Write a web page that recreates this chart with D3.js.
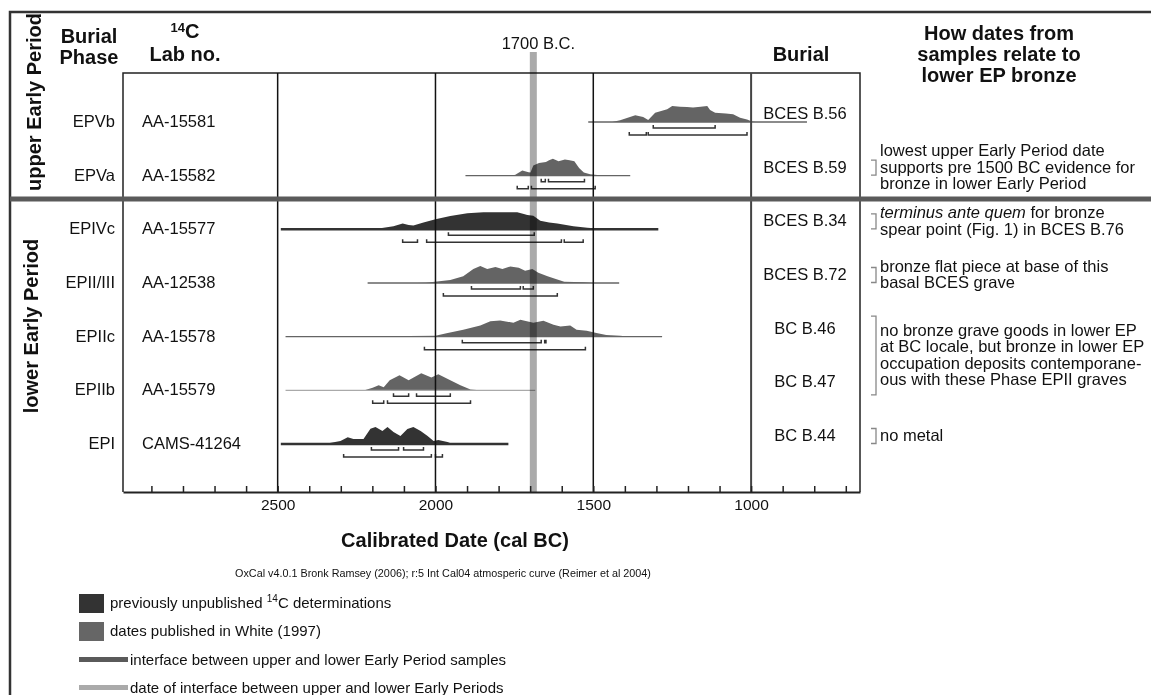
<!DOCTYPE html>
<html>
<head>
<meta charset="utf-8">
<script src="https://cdn.jsdelivr.net/npm/d3@7"></script>
<style>
  body { margin: 0; background: #fff; }
  svg { display: block; font-family: "Liberation Sans", Arial, Helvetica, sans-serif; }
</style>
</head>
<body>
<svg id="chart" width="1151" height="695"></svg>
<script>
// Calibrated 14C dates per burial phase (years cal BC)

const phases  = ['EPVb', 'EPVa', 'EPIVc', 'EPII/III', 'EPIIc', 'EPIIb', 'EPI'];
const labNos  = ['AA-15581', 'AA-15582', 'AA-15577', 'AA-12538', 'AA-15578', 'AA-15579', 'CAMS-41264'];
const burials = ['BCES B.56', 'BCES B.59', 'BCES B.34', 'BCES B.72', 'BC B.46', 'BC B.47', 'BC B.44'];
// 'new' = previously unpublished, 'white' = published in White (1997)
const sources = ['white', 'white', 'new', 'white', 'white', 'white', 'new'];

// extent of the thin line under each probability curve
const baseRanges = [[1516, 823], [1905, 1383], [2490, 1294], [2215, 1418], [2475, 1282], [2475, 1684], [2490, 1769]];

// probability curves: [year BC, relative probability]
const densities = [
  [[1440, 0], [1415, 0.1], [1367, 0.4], [1342, 0.3], [1326, 0.12], [1304, 0.55], [1266, 0.75], [1250, 0.94],
   [1225, 0.9], [1203, 0.88], [1184, 0.85], [1160, 0.9], [1139, 0.94], [1130, 0.7], [1114, 0.55], [1080, 0.5],
   [1057, 0.45], [1035, 0.25], [1013, 0.15], [997, 0.03], [985, 0]],
  [[1760, 0], [1747, 0.05], [1725, 0.3], [1705, 0.2], [1699, 0.18], [1690, 0.6], [1672, 0.75], [1650, 0.8],
   [1640, 0.9], [1628, 1.0], [1610, 0.85], [1590, 0.95], [1575, 0.9], [1560, 0.85], [1545, 0.45], [1530, 0.18],
   [1510, 0.08], [1480, 0.03], [1465, 0]],
  [[2260, 0], [2237, 0.02], [2180, 0.05], [2133, 0.18], [2104, 0.35], [2085, 0.25], [2070, 0.22], [2038, 0.4],
   [2000, 0.6], [1953, 0.78], [1899, 0.94], [1848, 1.0], [1780, 1.0], [1741, 1.0], [1720, 0.9], [1709, 0.85],
   [1690, 0.8], [1668, 0.5], [1640, 0.4], [1614, 0.35], [1563, 0.18], [1519, 0.1], [1478, 0.03], [1450, 0]],
  [[2060, 0], [2030, 0.02], [1953, 0.18], [1912, 0.4], [1880, 0.82], [1858, 1.0], [1836, 0.82], [1810, 0.94],
   [1788, 0.82], [1763, 0.97], [1736, 0.9], [1716, 0.72], [1693, 0.82], [1674, 0.6], [1645, 0.4], [1614, 0.2],
   [1592, 0.08], [1530, 0.04], [1500, 0]],
  [[2200, 0], [2165, 0.02], [2000, 0.06], [1965, 0.2], [1912, 0.4], [1858, 0.65], [1826, 0.9], [1795, 0.95],
   [1753, 0.82], [1731, 1.0], [1690, 0.82], [1658, 0.94], [1626, 0.7], [1604, 0.6], [1573, 0.65], [1553, 0.4],
   [1521, 0.35], [1490, 0.22], [1459, 0.1], [1415, 0.05], [1380, 0]],
  [[2225, 0], [2199, 0.15], [2180, 0.3], [2164, 0.18], [2145, 0.6], [2114, 0.88], [2085, 0.6], [2045, 1.0],
   [2013, 0.76], [1991, 0.94], [1953, 0.6], [1921, 0.3], [1889, 0.05], [1860, 0]],
  [[2360, 0], [2339, 0.05], [2301, 0.18], [2278, 0.4], [2260, 0.3], [2247, 0.3], [2228, 0.3], [2206, 0.9],
   [2190, 1.0], [2168, 0.76], [2152, 1.0], [2133, 0.7], [2111, 0.47], [2089, 0.88], [2070, 1.0], [2047, 0.76],
   [2025, 0.47], [2006, 0.18], [1991, 0.24], [1962, 0.12], [1946, 0]]
];

// 68.2% and 95.4% ranges
const range68 = [
  [[1310, 1114]],
  [[1665, 1652], [1642, 1528]],
  [[1959, 1687]],
  [[1886, 1731], [1722, 1690]],
  [[1915, 1665], [1654, 1650]],
  [[2133, 2085], [2060, 1953]],
  [[2203, 2117], [2101, 2038]]
];
const range95 = [
  [[1386, 1332], [1326, 1013]],
  [[1741, 1706], [1696, 1494]],
  [[2104, 2057], [2028, 1601], [1592, 1532]],
  [[1975, 1614]],
  [[2035, 1525]],
  [[2199, 2164], [2152, 1889]],
  [[2291, 2013], [2000, 1978]]
];

const gridYears = [2500, 2000, 1500, 1000];
const interfaceYear = 1690;
const interfaceLabel = '1700 B.C.';

// notes on the right, anchored to rows
const noteRows = [['EPVa'], ['EPIVc'], ['EPII/III'], ['EPIIc', 'EPIIb'], ['EPI']];
const noteLines = [
  ['lowest upper Early Period date', 'supports pre 1500 BC evidence for', 'bronze in lower Early Period'],
  ['*terminus ante quem* for bronze', 'spear point (Fig. 1) in BCES B.76'],
  ['bronze flat piece at base of this', 'basal BCES grave'],
  ['no bronze grave goods in lower EP', 'at BC locale, but bronze in lower EP',
   'occupation deposits contemporane-', 'ous with these Phase EPII graves'],
  ['no metal']
];

const legendItems = [
  { kind: 'box', color: '#333', text: ['previously unpublished ', '14', 'C determinations'] },
  { kind: 'box', color: '#666', text: ['dates published in White (1997)'] },
  { kind: 'bar', color: '#5a5a5a', text: ['interface between upper and lower Early Period samples'] },
  { kind: 'bar', color: '#aaa', text: ['date of interface between upper and lower Early Periods'] }
];

const fills = { new: '#333', white: '#646464' };

// ---------------------------------------------------------------
const svg = d3.select('#chart');
const box = { left: 123, right: 860, top: 73, bottom: 492 };

const x = d3.scaleLinear().domain([2990, 655]).range([box.left, box.right]);
const y = d3.scalePoint().domain(phases).range([122, 444]);
const h = d3.scaleLinear().domain([0, 1]).range([0, 17]);

// outer frame (runs off the page right and bottom)
svg.append('path')
  .attr('d', 'M1170,12 H10 V710')
  .attr('fill', 'none')
  .attr('stroke', '#333')
  .attr('stroke-width', 2.5);

// plot box
svg.append('path')
  .attr('d', `M${box.left},${box.bottom} V${box.top} H${box.right} V${box.bottom}`)
  .attr('fill', 'none')
  .attr('stroke', '#222')
  .attr('stroke-width', 1.5);

// probability curves
phases.forEach((p, i) => {
  const y0 = y(p);
  const color = fills[sources[i]];
  const area = d3.area()
    .x(d => x(d[0]))
    .y0(y0)
    .y1(d => y0 - h(d[1]));

  svg.append('path')
    .datum(densities[i])
    .attr('d', area)
    .attr('fill', color);

  svg.append('line')
    .attr('x1', x(baseRanges[i][0]))
    .attr('x2', x(baseRanges[i][1]))
    .attr('y1', y0)
    .attr('y2', y0)
    .attr('stroke', p === 'EPIIb' ? '#aaa' : color)
    .attr('stroke-width', sources[i] === 'new' ? 2.5 : 1.3);

  const bracket = (r, off) => `M${x(r[0])},${y0 + off - 3} V${y0 + off} H${x(r[1])} V${y0 + off - 3}`;
  svg.selectAll(null)
    .data(range68[i])
    .enter()
    .append('path')
    .attr('d', r => bracket(r, 6))
    .attr('fill', 'none')
    .attr('stroke', '#333')
    .attr('stroke-width', 1.5);
  svg.selectAll(null)
    .data(range95[i])
    .enter()
    .append('path')
    .attr('d', r => bracket(r, 13))
    .attr('fill', 'none')
    .attr('stroke', '#333')
    .attr('stroke-width', 1.5);
});

// century grid lines
svg.selectAll('.grid')
  .data(gridYears)
  .enter()
  .append('line')
  .attr('class', 'grid')
  .attr('x1', d => x(d))
  .attr('x2', d => x(d))
  .attr('y1', box.top)
  .attr('y2', box.bottom)
  .attr('stroke', d => d === 1000 ? '#444' : '#111')
  .attr('stroke-width', d => d === 1000 ? 2 : 1.5);

// 1700 BC interface band
svg.append('rect')
  .attr('x', x(interfaceYear) - 3.5)
  .attr('y', 52)
  .attr('width', 7)
  .attr('height', box.bottom - 52)
  .attr('fill', '#aaa')
  .style('mix-blend-mode', 'multiply');

svg.append('text')
  .attr('x', x(interfaceYear) + 5)
  .attr('y', 49)
  .attr('text-anchor', 'middle')
  .attr('font-size', '16.5px')
  .attr('fill', '#111')
  .text(interfaceLabel);

// separator between upper and lower Early Period
svg.append('line')
  .attr('x1', 10)
  .attr('x2', 1151)
  .attr('y1', 199)
  .attr('y2', 199)
  .attr('stroke', '#5a5a5a')
  .attr('stroke-width', 5);

// x axis
const axis = svg.append('g')
  .attr('transform', `translate(0,${box.bottom})`)
  .call(d3.axisBottom(x)
    .tickValues(d3.range(2900, 699, -100))
    .tickSize(-6)
    .tickSizeOuter(0)
    .tickPadding(7)
    .tickFormat(d => d % 500 === 0 ? d : ''));
axis.select('.domain').attr('stroke', '#222').attr('stroke-width', 2);
axis.selectAll('.tick line').attr('stroke', '#222').attr('stroke-width', 1.5);
axis.selectAll('.tick text')
  .attr('font-family', '"Liberation Sans", Arial, sans-serif')
  .attr('font-size', '15.5px')
  .attr('fill', '#111');

svg.append('text')
  .attr('x', 455)
  .attr('y', 547)
  .attr('text-anchor', 'middle')
  .attr('font-size', '20px')
  .attr('font-weight', 'bold')
  .attr('fill', '#111')
  .text('Calibrated Date (cal BC)');

svg.append('text')
  .attr('x', 443)
  .attr('y', 577)
  .attr('text-anchor', 'middle')
  .attr('font-size', '10.8px')
  .attr('fill', '#111')
  .text('OxCal v4.0.1 Bronk Ramsey (2006); r:5 Int Cal04 atmosperic curve (Reimer et al 2004)');

// column headers
const header = (cx, lines) => {
  lines.forEach(l => {
    svg.append('text')
      .attr('x', cx)
      .attr('y', l.y)
      .attr('text-anchor', 'middle')
      .attr('font-size', '20px')
      .attr('font-weight', 'bold')
      .attr('fill', '#111')
      .text(l.t);
  });
};
header(89, [{ t: 'Burial', y: 43 }, { t: 'Phase', y: 64 }]);
header(185, [{ t: 'Lab no.', y: 61 }]);
header(801, [{ t: 'Burial', y: 61 }]);
header(999, [{ t: 'How dates from', y: 40 }, { t: 'samples relate to', y: 61 }, { t: 'lower EP bronze', y: 82 }]);

const c14 = svg.append('text')
  .attr('x', 185)
  .attr('y', 38)
  .attr('text-anchor', 'middle')
  .attr('font-size', '20px')
  .attr('font-weight', 'bold')
  .attr('fill', '#111');
c14.append('tspan').attr('font-size', '13px').attr('dy', -6).text('14');
c14.append('tspan').attr('dy', 6).text('C');

// period labels
[['upper Early Period', 41, 102], ['lower Early Period', 38, 326]].forEach(([t, px, py]) => {
  svg.append('text')
    .attr('transform', `translate(${px},${py}) rotate(-90)`)
    .attr('text-anchor', 'middle')
    .attr('font-size', '20px')
    .attr('font-weight', 'bold')
    .attr('fill', '#111')
    .text(t);
});

// row labels
svg.selectAll('.phase')
  .data(phases)
  .enter()
  .append('text')
  .attr('x', 115)
  .attr('y', d => y(d) + 5)
  .attr('text-anchor', 'end')
  .attr('font-size', '16.5px')
  .attr('fill', '#111')
  .text(d => d);

svg.selectAll('.lab')
  .data(labNos)
  .enter()
  .append('text')
  .attr('x', 142)
  .attr('y', (d, i) => y(phases[i]) + 5)
  .attr('font-size', '16.5px')
  .attr('fill', '#111')
  .text(d => d);

svg.selectAll('.burial')
  .data(burials)
  .enter()
  .append('text')
  .attr('x', 805)
  .attr('y', (d, i) => y(phases[i]) - 3)
  .attr('text-anchor', 'middle')
  .attr('font-size', '16.5px')
  .attr('fill', '#111')
  .text(d => d);

// notes
noteLines.forEach((lines, i) => {
  const rows = noteRows[i];
  const mid = d3.mean(rows, r => y(r)) - 3;
  const lh = 16.5;
  const g = svg.append('g');
  lines.forEach((line, j) => {
    const t = g.append('text')
      .attr('x', 880)
      .attr('y', mid + (j - (lines.length - 1) / 2) * lh)
      .attr('font-size', '16.5px')
      .attr('fill', '#111');
    line.split('*').forEach((part, k) => {
      if (part) t.append('tspan').attr('font-style', k % 2 ? 'italic' : null).text(part);
    });
  });
  const bh = rows.length > 1 ? (y(rows[1]) - y(rows[0])) + 25 : 15;
  const bc = mid - 5;
  g.append('path')
    .attr('d', `M871,${bc - bh / 2} H876 V${bc + bh / 2} H871`)
    .attr('fill', 'none')
    .attr('stroke', '#888')
    .attr('stroke-width', 1.3);
});

// legend
const legendTop = [594, 622, 657, 685];
legendItems.forEach((item, i) => {
  const ly = legendTop[i];
  if (item.kind === 'box') {
    svg.append('rect')
      .attr('x', 79).attr('y', ly)
      .attr('width', 25).attr('height', 19)
      .attr('fill', item.color);
  } else {
    svg.append('rect')
      .attr('x', 79).attr('y', ly)
      .attr('width', 49).attr('height', 5)
      .attr('fill', item.color);
  }
  const t = svg.append('text')
    .attr('x', item.kind === 'box' ? 110 : 130)
    .attr('y', item.kind === 'box' ? ly + 14 : ly + 8)
    .attr('font-size', '15px')
    .attr('fill', '#111');
  if (item.text.length === 3) {
    t.append('tspan').text(item.text[0]);
    t.append('tspan').attr('font-size', '10px').attr('dy', -6).text(item.text[1]);
    t.append('tspan').attr('dy', 6).text(item.text[2]);
  } else {
    t.text(item.text[0]);
  }
});
</script>
</body>
</html>
